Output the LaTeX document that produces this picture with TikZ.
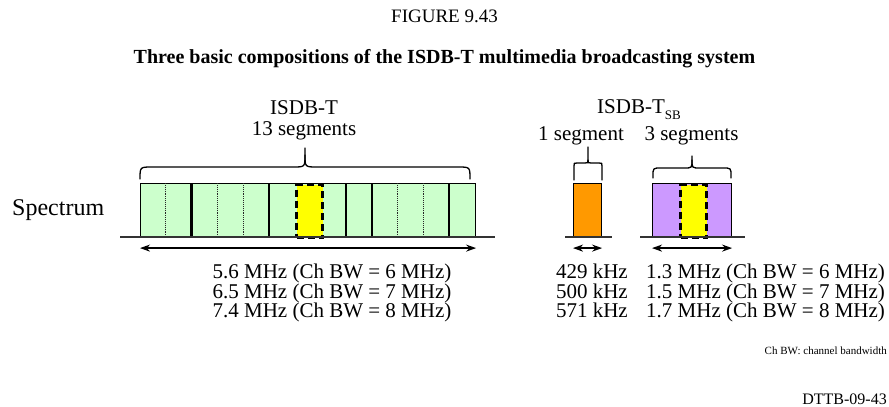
\documentclass[tikz,border=0pt]{standalone}
\usepackage{fontspec}
\setmainfont{Liberation Serif}
\usepackage{tikz}
\usetikzlibrary{positioning, arrows.meta, calc}
\usepackage{xcolor}
\definecolor{seggreen}{RGB}{204, 255, 204}
\definecolor{segorange}{RGB}{255, 153, 0}
\definecolor{segpurple}{RGB}{204, 153, 255}
\definecolor{segyellow}{RGB}{255, 255, 0}
\newcommand{\px}[1]{\fontsize{#1}{#1}\selectfont}
% brace: x1, x2, y of ends, y of bar, y of tip, corner
\newcommand{\segbrace}[6]{%
  \draw[bracepen] ({#1},{#3}) -- ({#1},{#4+#6}) .. controls ({#1},{#4}) .. ({#1+#6},{#4})
    -- ({(#1+#2)/2-#6},{#4}) .. controls ({(#1+#2)/2},{#4}) .. ({(#1+#2)/2},{#4-#6}) -- ({(#1+#2)/2},{#5});
  \draw[bracepen] ({(#1+#2)/2},{#4-#6}) .. controls ({(#1+#2)/2},{#4}) .. ({(#1+#2)/2+#6},{#4})
    -- ({#2-#6},{#4}) .. controls ({#2},{#4}) .. ({#2},{#4+#6}) -- ({#2},{#3});}

\begin{document}
\begin{tikzpicture}[x=1pt, y=-1pt,
    band/.style={draw=black, line width=1.1pt, inner sep=0pt, minimum height=53pt, anchor=north west},
    centreseg/.style={draw=black, fill=segyellow, line width=3pt, dash pattern=on 7pt off 4pt, inner sep=0pt, minimum height=53pt, anchor=north west},
    thickseg/.style={line width=2.2pt, black},
    thinseg/.style={line width=0.9pt, black!85, densely dotted},
    axis/.style={line width=2pt, black!80},
    bw/.style={{Stealth[length=10pt, width=7pt]}-{Stealth[length=10pt, width=7pt]}, line width=2pt},
    bracepen/.style={line width=1.3pt, black, line cap=round},
    lbl/.style={inner sep=0pt, font=\px{21}}]
    \useasboundingbox (0,0) rectangle (889,407);

    % Heading
    \node[inner sep=0pt, font=\px{19}, anchor=base] (figno) at (444.5,22) {FIGURE 9.43};
    \node[inner sep=0pt, font=\px{20}\bfseries, anchor=base] (title) at (444.5,63) {Three basic compositions of the ISDB-T multimedia broadcasting system};

    \node[inner sep=0pt, font=\px{24}, anchor=base west] (spec) at (12,215) {Spectrum};

    % ISDB-T, 13 segments
    \node[band, fill=seggreen, minimum width=335pt] (full) at (140,183) {};
    \foreach \i in {1,3,4,10,11}
        \draw[thinseg] ({140+\i*335/13},183) -- ++(0,53);
    \foreach \i in {2,5,8,9,12}
        \draw[thickseg] ({140+\i*335/13},183) -- ++(0,53);
    \node[centreseg, minimum width=26pt] (fullmid) at (295,183) {};
    \draw[axis] ([xshift=-20pt]full.south west) -- ([xshift=19pt]full.south east);
    \draw[bw] ([yshift=-11pt]full.south west) -- ([yshift=-11pt]full.south east);
    \segbrace{140}{470}{179}{167}{148}{12}

    \node[lbl, anchor=base] (isdbt) at (304,114) {ISDB-T};
    \node[lbl, anchor=base] (isdbtn) at (304,135) {13 segments};
    \foreach \f/\b [count=\k] in {5.6/6, 6.5/7, 7.4/8}
        \node[lbl, anchor=base] (full-\k) at (332,{259+19.5*\k}) {\f\ MHz (Ch BW = \b\ MHz)};

    % ISDB-TSB, 1 segment
    \node[band, fill=segorange, minimum width=28pt] (one) at (573,183) {};
    \draw[axis] ([xshift=-8pt]one.south west) -- ([xshift=10pt]one.south east);
    \draw[bw] ([yshift=-11pt]one.south west) -- ([yshift=-11pt]one.south east);
    \segbrace{574}{602}{180}{163}{147}{3}

    % ISDB-TSB, 3 segments
    \node[band, fill=segpurple, minimum width=79pt] (three) at (652,183) {};
    \node[centreseg, minimum width=26pt] (threemid) at (679,183) {};
    \draw[axis] ([xshift=-12pt]three.south west) -- ([xshift=13pt]three.south east);
    \draw[bw] ([yshift=-11pt]three.south west) -- ([yshift=-11pt]three.south east);
    \segbrace{653}{731}{178}{168}{156}{8}

    \node[lbl, anchor=base] (isdbsb) at (639,113) {ISDB-T\raisebox{-0.3em}{\px{13}SB}};
    \node[lbl, anchor=base] (oneseg) at (581,140) {1 segment};
    \node[lbl, anchor=base] (threeseg) at (691.5,140) {3 segments};
    \foreach \f/\g/\b [count=\k] in {429/1.3/6, 500/1.5/7, 571/1.7/8} {
        \node[lbl, anchor=base east] (khz-\k) at (628,{259+19.5*\k}) {\f\ kHz};
        \node[lbl, anchor=base west] (mhz-\k) at (646,{259+19.5*\k}) {\g\ MHz (Ch BW = \b\ MHz)};
    }

    % Notes
    \node[inner sep=0pt, font=\px{11}, anchor=base east] (note) at (887,354) {Ch BW: channel bandwidth};
    \node[inner sep=0pt, font=\px{16}, anchor=base east] (ref) at (887,404) {DTTB-09-43};
\end{tikzpicture}
\end{document}
